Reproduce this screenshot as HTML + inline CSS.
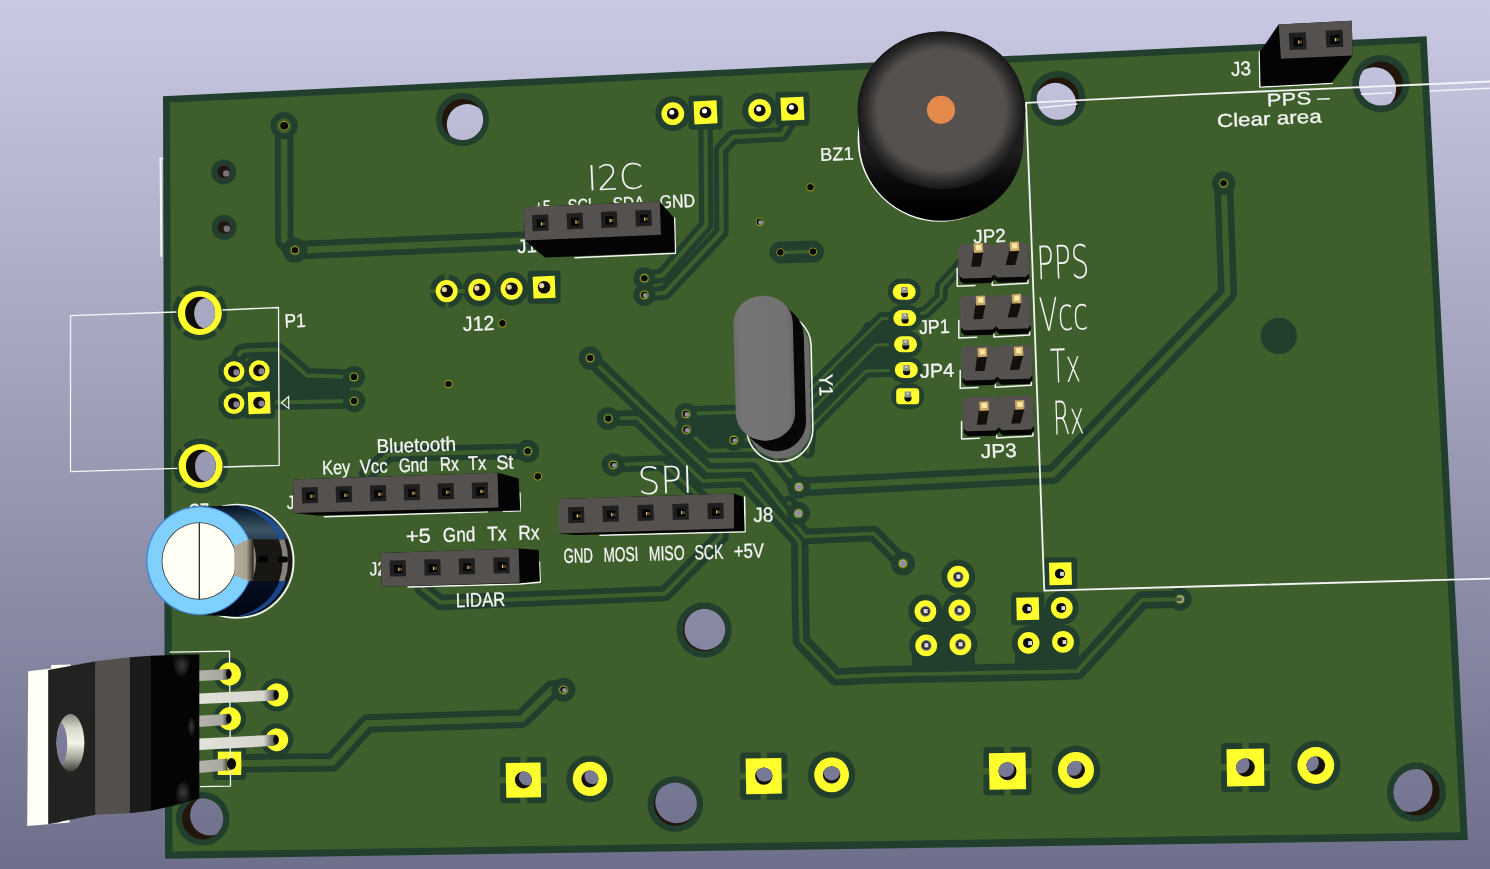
<!DOCTYPE html>
<html lang="en"><head><meta charset="utf-8"><title>PCB 3D view</title>
<style>
html,body{margin:0;padding:0;background:#666680;overflow:hidden}
svg{display:block}
.t{font-family:"Liberation Sans","DejaVu Sans",sans-serif;fill:#f4f4f4;stroke:#f4f4f4;stroke-width:0.3px}
.tl{font-family:"DejaVu Sans Light","DejaVu Sans","Liberation Sans",sans-serif;font-weight:200;fill:#f4f4f4}
</style></head><body>
<svg width="1490" height="869" viewBox="0 0 1490 869">
<defs>
<filter id="noop" x="-25%" y="-50%" width="150%" height="200%"><feOffset dx="0" dy="0"/></filter>
<linearGradient id="bg" gradientUnits="userSpaceOnUse" x1="0" y1="0" x2="0" y2="869"><stop offset="0" stop-color="#c9c9e3"/><stop offset="1" stop-color="#6e6f8a"/></linearGradient>
</defs>
<defs><radialGradient id="bzTop" gradientUnits="userSpaceOnUse" cx="941.5" cy="110" r="83.8" gradientTransform="translate(0 110) scale(1 0.94) translate(0 -110)">
<stop offset="0" stop-color="#55514e"/><stop offset="0.755" stop-color="#55514e"/><stop offset="0.80" stop-color="#4b4846"/><stop offset="0.90" stop-color="#2e2d2c"/><stop offset="1" stop-color="#181818"/></radialGradient>
<linearGradient id="bzBody" gradientUnits="userSpaceOnUse" x1="0" y1="150" x2="0" y2="212">
<stop offset="0" stop-color="#1e1e1e"/><stop offset="0.45" stop-color="#0c0c0c"/><stop offset="1" stop-color="#000"/></linearGradient>
<linearGradient id="xtTop" gradientUnits="userSpaceOnUse" x1="734" y1="0" x2="794" y2="0">
<stop offset="0" stop-color="#6c6c6c"/><stop offset="0.12" stop-color="#757575"/><stop offset="0.9" stop-color="#727272"/><stop offset="1" stop-color="#666"/></linearGradient>
<linearGradient id="capBody" gradientUnits="userSpaceOnUse" x1="0" y1="506" x2="0" y2="616">
<stop offset="0" stop-color="#06101f"/><stop offset="0.10" stop-color="#1c3346"/><stop offset="0.22" stop-color="#3d5563"/><stop offset="0.32" stop-color="#233a4c"/><stop offset="0.5" stop-color="#0b1a30"/><stop offset="0.75" stop-color="#030c1e"/><stop offset="1" stop-color="#010612"/></linearGradient>
<clipPath id="capClip"><path d="M199.7,506.4 L237,505.6 A55,55.5 0 0 1 237,616.6 L199.7,615 Z"/></clipPath>
<linearGradient id="wedge" gradientUnits="userSpaceOnUse" x1="234" y1="0" x2="254" y2="0"><stop offset="0" stop-color="#b2aa9a"/><stop offset="0.62" stop-color="#aca493"/><stop offset="0.8" stop-color="#6a6458"/><stop offset="1" stop-color="#1c1a16"/></linearGradient>
<linearGradient id="lead1" gradientUnits="userSpaceOnUse" x1="199" y1="0" x2="232" y2="0">
<stop offset="0" stop-color="#b4b4ac"/><stop offset="0.7" stop-color="#a8a8a0"/><stop offset="0.86" stop-color="#4a4a44"/><stop offset="1" stop-color="#0a0a08"/></linearGradient>
<linearGradient id="lead2" gradientUnits="userSpaceOnUse" x1="199" y1="0" x2="280" y2="0">
<stop offset="0" stop-color="#e2e2da"/><stop offset="0.8" stop-color="#d6d6ce"/><stop offset="0.92" stop-color="#5a5a54"/><stop offset="1" stop-color="#0a0a08"/></linearGradient>
<linearGradient id="tabHole" gradientUnits="userSpaceOnUse" x1="0" y1="714" x2="0" y2="772">
<stop offset="0" stop-color="#8a8a82"/><stop offset="0.25" stop-color="#d8d8cc"/><stop offset="0.5" stop-color="#f4f4e6"/><stop offset="0.75" stop-color="#a8a89c"/><stop offset="1" stop-color="#3a3a36"/></linearGradient>
<radialGradient id="notch" cx="0.5" cy="0.5" r="0.5"><stop offset="0" stop-color="#3a3a3a"/><stop offset="1" stop-color="#0a0a0a"/></radialGradient>
<clipPath id="tabClip"><ellipse cx="70.5" cy="742.8" rx="13.9" ry="28.7"/></clipPath></defs>
<rect width="1490" height="869" fill="url(#bg)"/>
<polyline points="1361.0,94.2 1490.0,88.2" fill="none" stroke="#f0f0f8" stroke-width="1.6" stroke-linejoin="round" stroke-linecap="round" />
<polygon points="163.0,96.2 1426.6,36.2 1467.8,840.0 165.1,858.7" fill="#223f2d" />
<polygon points="170.0,102.5 1420.0,43.0 1460.4,832.3 172.5,851.6" fill="#3e5f2c" />
<polyline points="284.1,125.7 284.3,240.0 295.0,250.3 527.0,240.6" fill="none" stroke="#223f2d" stroke-width="18.5" stroke-linejoin="round" stroke-linecap="round" />
<polyline points="705.5,120.0 706.3,225.0 662.3,275.5 644.4,278.2" fill="none" stroke="#223f2d" stroke-width="14.5" stroke-linejoin="round" stroke-linecap="round" />
<polyline points="792.0,118.0 782.0,134.5 733.0,137.0 721.0,150.0 721.5,232.0 665.0,292.6 644.4,294.9" fill="none" stroke="#223f2d" stroke-width="14.5" stroke-linejoin="round" stroke-linecap="round" />
<polyline points="780.4,252.4 812.9,251.6" fill="none" stroke="#223f2d" stroke-width="22" stroke-linejoin="round" stroke-linecap="round" />
<polyline points="1223.6,183.3 1227.6,293.6 1107.2,418.3 1053.0,474.5 798.9,487.0" fill="none" stroke="#223f2d" stroke-width="19" stroke-linejoin="round" stroke-linecap="round" />
<polyline points="234.0,367.0 240.5,352.0 246.0,350.6 277.5,349.6 307.0,375.4 353.9,376.9" fill="none" stroke="#223f2d" stroke-width="15" stroke-linejoin="round" stroke-linecap="round" />
<polyline points="259.2,402.8 354.1,401.1" fill="none" stroke="#223f2d" stroke-width="15" stroke-linejoin="round" stroke-linecap="round" />
<polyline points="366.6,474.4 388.8,454.2 527.7,451.2" fill="none" stroke="#223f2d" stroke-width="15.5" stroke-linejoin="round" stroke-linecap="round" />
<polyline points="422.5,588.7 440.0,602.4 664.8,593.6 721.2,536.2 716.0,512.0" fill="none" stroke="#223f2d" stroke-width="15.5" stroke-linejoin="round" stroke-linecap="round" />
<polyline points="229.9,763.6 332.3,762.3 367.3,723.6 522.1,718.7 552.0,689.6 563.5,689.8" fill="none" stroke="#223f2d" stroke-width="18.5" stroke-linejoin="round" stroke-linecap="round" />
<polyline points="590.2,358.1 708.0,470.9 752.3,470.0 805.0,536.5 873.5,533.5 902.9,563.5" fill="none" stroke="#223f2d" stroke-width="15.5" stroke-linejoin="round" stroke-linecap="round" />
<polyline points="608.3,418.6 637.2,417.8 702.6,481.0 743.1,479.5 799.5,541.5 800.0,560.0" fill="none" stroke="#223f2d" stroke-width="15.5" stroke-linejoin="round" stroke-linecap="round" />
<polyline points="799.8,548.0 800.3,600.0 801.3,641.0 836.0,677.0 880.0,674.8 1077.3,671.1 1142.2,599.9 1180.1,599.2" fill="none" stroke="#223f2d" stroke-width="17.5" stroke-linejoin="round" stroke-linecap="round" />
<polyline points="613.3,464.7 662.0,463.0 700.0,497.0 715.6,511.6" fill="none" stroke="#223f2d" stroke-width="15.5" stroke-linejoin="round" stroke-linecap="round" />
<polyline points="685.9,413.9 745.0,412.0" fill="none" stroke="#223f2d" stroke-width="15.5" stroke-linejoin="round" stroke-linecap="round" />
<polyline points="686.4,429.6 709.0,450.6 750.5,449.7 770.0,452.0 798.9,487.0" fill="none" stroke="#223f2d" stroke-width="15.5" stroke-linejoin="round" stroke-linecap="round" />
<polyline points="733.8,440.0 752.0,439.5" fill="none" stroke="#223f2d" stroke-width="15.5" stroke-linejoin="round" stroke-linecap="round" />
<polyline points="798.4,513.4 789.0,503.0" fill="none" stroke="#223f2d" stroke-width="15.5" stroke-linejoin="round" stroke-linecap="round" />
<polyline points="904.8,318.1 882.0,318.5 800.0,400.0 800.0,430.0" fill="none" stroke="#223f2d" stroke-width="13" stroke-linejoin="round" stroke-linecap="round" />
<polyline points="905.5,344.3 876.0,345.0 806.0,416.0 806.0,440.0" fill="none" stroke="#223f2d" stroke-width="13" stroke-linejoin="round" stroke-linecap="round" />
<polyline points="906.3,369.9 866.0,371.0 810.0,428.0 808.0,452.0" fill="none" stroke="#223f2d" stroke-width="13" stroke-linejoin="round" stroke-linecap="round" />
<polyline points="962.0,263.5 941.6,286.0 941.0,297.5 926.0,312.0 908.0,317.5" fill="none" stroke="#223f2d" stroke-width="12.8" stroke-linejoin="round" stroke-linecap="round" />
<polygon points="262.0,352.0 280.0,352.0 304.0,376.0 350.0,380.0 350.0,398.0 262.0,399.0" fill="#223f2d" />
<polygon points="640.0,272.0 652.0,272.0 652.0,300.0 640.0,300.0" fill="#223f2d" />
<polygon points="690.0,416.0 748.0,413.0 752.0,458.0 712.0,458.0" fill="#223f2d" />
<polygon points="866.0,322.0 905.0,322.0 905.0,372.0 866.0,372.0 812.0,428.0 800.0,420.0" fill="#223f2d" />
<polyline points="284.1,125.7 284.3,240.0 295.0,250.3 527.0,240.6" fill="none" stroke="#3e5f2c" stroke-width="6.7" stroke-linejoin="round" stroke-linecap="round" />
<polyline points="705.5,120.0 706.3,225.0 662.3,275.5 644.4,278.2" fill="none" stroke="#3e5f2c" stroke-width="4.3" stroke-linejoin="round" stroke-linecap="round" />
<polyline points="792.0,118.0 782.0,134.5 733.0,137.0 721.0,150.0 721.5,232.0 665.0,292.6 644.4,294.9" fill="none" stroke="#3e5f2c" stroke-width="4.3" stroke-linejoin="round" stroke-linecap="round" />
<polyline points="780.4,252.4 812.9,251.6" fill="none" stroke="#3e5f2c" stroke-width="3.5" stroke-linejoin="round" stroke-linecap="round" />
<polyline points="1223.6,183.3 1227.6,293.6 1107.2,418.3 1053.0,474.5 798.9,487.0" fill="none" stroke="#3e5f2c" stroke-width="6" stroke-linejoin="round" stroke-linecap="round" />
<polyline points="234.0,367.0 240.5,352.0 246.0,350.6 277.5,349.6 307.0,375.4 353.9,376.9" fill="none" stroke="#3e5f2c" stroke-width="4" stroke-linejoin="round" stroke-linecap="round" />
<polyline points="259.2,402.8 354.1,401.1" fill="none" stroke="#3e5f2c" stroke-width="4" stroke-linejoin="round" stroke-linecap="round" />
<polyline points="366.6,474.4 388.8,454.2 527.7,451.2" fill="none" stroke="#3e5f2c" stroke-width="4.5" stroke-linejoin="round" stroke-linecap="round" />
<polyline points="422.5,588.7 440.0,602.4 664.8,593.6 721.2,536.2 716.0,512.0" fill="none" stroke="#3e5f2c" stroke-width="4.2" stroke-linejoin="round" stroke-linecap="round" />
<polyline points="229.9,763.6 332.3,762.3 367.3,723.6 522.1,718.7 552.0,689.6 563.5,689.8" fill="none" stroke="#3e5f2c" stroke-width="6.5" stroke-linejoin="round" stroke-linecap="round" />
<polyline points="590.2,358.1 708.0,470.9 752.3,470.0 805.0,536.5 873.5,533.5 902.9,563.5" fill="none" stroke="#3e5f2c" stroke-width="3.6" stroke-linejoin="round" stroke-linecap="round" />
<polyline points="608.3,418.6 637.2,417.8 702.6,481.0 743.1,479.5 799.5,541.5 800.0,560.0" fill="none" stroke="#3e5f2c" stroke-width="3.6" stroke-linejoin="round" stroke-linecap="round" />
<polyline points="799.8,548.0 800.3,600.0 801.3,641.0 836.0,677.0 880.0,674.8 1077.3,671.1 1142.2,599.9 1180.1,599.2" fill="none" stroke="#3e5f2c" stroke-width="3.8" stroke-linejoin="round" stroke-linecap="round" />
<polyline points="613.3,464.7 662.0,463.0 700.0,497.0 715.6,511.6" fill="none" stroke="#3e5f2c" stroke-width="3.6" stroke-linejoin="round" stroke-linecap="round" />
<polyline points="685.9,413.9 745.0,412.0" fill="none" stroke="#3e5f2c" stroke-width="3.6" stroke-linejoin="round" stroke-linecap="round" />
<polyline points="686.4,429.6 709.0,450.6 750.5,449.7 770.0,452.0 798.9,487.0" fill="none" stroke="#3e5f2c" stroke-width="3.6" stroke-linejoin="round" stroke-linecap="round" />
<polyline points="733.8,440.0 752.0,439.5" fill="none" stroke="#3e5f2c" stroke-width="3.6" stroke-linejoin="round" stroke-linecap="round" />
<polyline points="798.4,513.4 789.0,503.0" fill="none" stroke="#3e5f2c" stroke-width="3.6" stroke-linejoin="round" stroke-linecap="round" />
<polyline points="904.8,318.1 882.0,318.5 800.0,400.0 800.0,430.0" fill="none" stroke="#3e5f2c" stroke-width="3" stroke-linejoin="round" stroke-linecap="round" />
<polyline points="905.5,344.3 876.0,345.0 806.0,416.0 806.0,440.0" fill="none" stroke="#3e5f2c" stroke-width="3" stroke-linejoin="round" stroke-linecap="round" />
<polyline points="906.3,369.9 866.0,371.0 810.0,428.0 808.0,452.0" fill="none" stroke="#3e5f2c" stroke-width="3" stroke-linejoin="round" stroke-linecap="round" />
<polyline points="962.0,263.5 941.6,286.0 941.0,297.5 926.0,312.0 908.0,317.5" fill="none" stroke="#3e5f2c" stroke-width="3.4" stroke-linejoin="round" stroke-linecap="round" />
<circle cx="1278.8" cy="335.9" r="18.2" fill="#223f2d"/>
<circle cx="284.1" cy="125.7" r="13.6" fill="#223f2d"/>
<circle cx="284.1" cy="125.7" r="7.5" fill="#3e5f2c"/>
<circle cx="284.1" cy="125.7" r="4.6" fill="#c9c41c"/>
<circle cx="284.1" cy="125.7" r="4" fill="#0b0905"/>
<circle cx="295" cy="250.3" r="12.5" fill="#223f2d"/>
<circle cx="295" cy="250.3" r="5.3" fill="#3e5f2c"/>
<circle cx="295" cy="250.3" r="3.9" fill="#c9c41c"/>
<circle cx="295" cy="250.3" r="3.3" fill="#0b0905"/>
<circle cx="810.4" cy="187.3" r="3.9" fill="#c9c41c"/>
<circle cx="810.4" cy="187.3" r="3.3" fill="#0b0905"/>
<circle cx="759.7" cy="221.8" r="3.9" fill="#c9c41c"/>
<circle cx="759.7" cy="221.8" r="3.3" fill="#0b0905"/>
<circle cx="760.6" cy="222.4" r="2.4" fill="#8d8da6"/>
<circle cx="780.4" cy="252.4" r="3.9" fill="#c9c41c"/>
<circle cx="780.4" cy="252.4" r="3.3" fill="#0b0905"/>
<circle cx="812.9" cy="251.6" r="3.9" fill="#c9c41c"/>
<circle cx="812.9" cy="251.6" r="3.3" fill="#0b0905"/>
<circle cx="644.4" cy="278.2" r="11" fill="#223f2d"/>
<circle cx="644.4" cy="278.2" r="5.3" fill="#3e5f2c"/>
<circle cx="644.4" cy="278.2" r="3.9" fill="#c9c41c"/>
<circle cx="644.4" cy="278.2" r="3.3" fill="#0b0905"/>
<circle cx="644.4" cy="294.9" r="11" fill="#223f2d"/>
<circle cx="644.4" cy="294.9" r="5.3" fill="#3e5f2c"/>
<circle cx="644.4" cy="294.9" r="3.9" fill="#c9c41c"/>
<circle cx="644.4" cy="294.9" r="3.3" fill="#0b0905"/>
<circle cx="645.3" cy="295.5" r="2.4" fill="#8d8da6"/>
<circle cx="590.2" cy="358.1" r="11.5" fill="#223f2d"/>
<circle cx="590.2" cy="358.1" r="5.3" fill="#3e5f2c"/>
<circle cx="590.2" cy="358.1" r="3.9" fill="#c9c41c"/>
<circle cx="590.2" cy="358.1" r="3.3" fill="#0b0905"/>
<circle cx="608.3" cy="418.6" r="11.5" fill="#223f2d"/>
<circle cx="608.3" cy="418.6" r="5.3" fill="#3e5f2c"/>
<circle cx="608.3" cy="418.6" r="3.9" fill="#c9c41c"/>
<circle cx="608.3" cy="418.6" r="3.3" fill="#0b0905"/>
<circle cx="613.3" cy="464.7" r="11.5" fill="#223f2d"/>
<circle cx="613.3" cy="464.7" r="5.3" fill="#3e5f2c"/>
<circle cx="613.3" cy="464.7" r="3.9" fill="#c9c41c"/>
<circle cx="613.3" cy="464.7" r="3.3" fill="#0b0905"/>
<circle cx="614.1999999999999" cy="465.3" r="2.4" fill="#8d8da6"/>
<circle cx="685.9" cy="413.9" r="11" fill="#223f2d"/>
<circle cx="685.9" cy="413.9" r="5.3" fill="#3e5f2c"/>
<circle cx="685.9" cy="413.9" r="3.9" fill="#c9c41c"/>
<circle cx="685.9" cy="413.9" r="3.3" fill="#0b0905"/>
<circle cx="686.8" cy="414.5" r="2.4" fill="#8d8da6"/>
<circle cx="686.4" cy="429.6" r="11" fill="#223f2d"/>
<circle cx="686.4" cy="429.6" r="5.3" fill="#3e5f2c"/>
<circle cx="686.4" cy="429.6" r="3.9" fill="#c9c41c"/>
<circle cx="686.4" cy="429.6" r="3.3" fill="#0b0905"/>
<circle cx="687.3" cy="430.20000000000005" r="2.4" fill="#8d8da6"/>
<circle cx="733.8" cy="440" r="11" fill="#223f2d"/>
<circle cx="733.8" cy="440" r="5.3" fill="#3e5f2c"/>
<circle cx="733.8" cy="440" r="3.9" fill="#c9c41c"/>
<circle cx="733.8" cy="440" r="3.3" fill="#0b0905"/>
<circle cx="734.6999999999999" cy="440.6" r="2.4" fill="#8d8da6"/>
<circle cx="798.9" cy="487" r="11.5" fill="#223f2d"/>
<circle cx="798.9" cy="487" r="5.3" fill="#3e5f2c"/>
<circle cx="798.9" cy="487" r="3.9" fill="#c9c41c"/>
<circle cx="798.9" cy="487" r="3.3" fill="#8d8da6"/>
<circle cx="798.4" cy="513.4" r="11.5" fill="#223f2d"/>
<circle cx="798.4" cy="513.4" r="5.3" fill="#3e5f2c"/>
<circle cx="798.4" cy="513.4" r="3.9" fill="#c9c41c"/>
<circle cx="798.4" cy="513.4" r="3.3" fill="#8d8da6"/>
<circle cx="902.9" cy="563.5" r="12" fill="#223f2d"/>
<circle cx="902.9" cy="563.5" r="5.3" fill="#3e5f2c"/>
<circle cx="902.9" cy="563.5" r="3.9" fill="#c9c41c"/>
<circle cx="902.9" cy="563.5" r="3.3" fill="#8d8da6"/>
<circle cx="1180.1" cy="599.2" r="11.5" fill="#223f2d"/>
<circle cx="1180.1" cy="599.2" r="5.3" fill="#3e5f2c"/>
<circle cx="1180.1" cy="599.2" r="3.9" fill="#c9c41c"/>
<circle cx="1180.1" cy="599.2" r="3.3" fill="#8d8da6"/>
<circle cx="1223.6" cy="183.3" r="11.7" fill="#223f2d"/>
<circle cx="1223.6" cy="183.3" r="5.3" fill="#3e5f2c"/>
<circle cx="1223.6" cy="183.3" r="3.9" fill="#c9c41c"/>
<circle cx="1223.6" cy="183.3" r="3.3" fill="#0b0905"/>
<circle cx="353.9" cy="376.9" r="11" fill="#223f2d"/>
<circle cx="353.9" cy="376.9" r="5.3" fill="#3e5f2c"/>
<circle cx="353.9" cy="376.9" r="3.9" fill="#c9c41c"/>
<circle cx="353.9" cy="376.9" r="3.3" fill="#0b0905"/>
<circle cx="354.1" cy="401.1" r="11" fill="#223f2d"/>
<circle cx="354.1" cy="401.1" r="5.3" fill="#3e5f2c"/>
<circle cx="354.1" cy="401.1" r="3.9" fill="#c9c41c"/>
<circle cx="354.1" cy="401.1" r="3.3" fill="#0b0905"/>
<circle cx="527.7" cy="451.2" r="11.5" fill="#223f2d"/>
<circle cx="527.7" cy="451.2" r="5.3" fill="#3e5f2c"/>
<circle cx="527.7" cy="451.2" r="3.9" fill="#c9c41c"/>
<circle cx="527.7" cy="451.2" r="3.3" fill="#0b0905"/>
<circle cx="537.8" cy="476.4" r="3.9" fill="#c9c41c"/>
<circle cx="537.8" cy="476.4" r="3.3" fill="#0b0905"/>
<circle cx="502.4" cy="323.4" r="3.9" fill="#c9c41c"/>
<circle cx="502.4" cy="323.4" r="3.3" fill="#0b0905"/>
<circle cx="448.5" cy="384" r="3.9" fill="#c9c41c"/>
<circle cx="448.5" cy="384" r="3.3" fill="#0b0905"/>
<circle cx="563.5" cy="689.8" r="12" fill="#223f2d"/>
<circle cx="563.5" cy="689.8" r="5.3" fill="#3e5f2c"/>
<circle cx="563.5" cy="689.8" r="3.9" fill="#c9c41c"/>
<circle cx="563.5" cy="689.8" r="3.3" fill="#0b0905"/>
<circle cx="564.4" cy="690.4" r="2.4" fill="#8d8da6"/>
<circle cx="223.7" cy="171.9" r="12.5" fill="#223f2d"/><circle cx="223.7" cy="171.9" r="6.8" fill="#3a261a"/><circle cx="223.7" cy="171.9" r="6" fill="#1f1611"/><circle cx="226.29999999999998" cy="173.4" r="3.2" fill="#77767f"/>
<circle cx="224.2" cy="227.3" r="12.5" fill="#223f2d"/><circle cx="224.2" cy="227.3" r="6.8" fill="#3a261a"/><circle cx="224.2" cy="227.3" r="6" fill="#1f1611"/><circle cx="226.79999999999998" cy="228.8" r="3.2" fill="#77767f"/>
<circle cx="462.6" cy="119.5" r="26.5" fill="#223f2d"/>
<clipPath id="c463_120"><circle cx="462.6" cy="119.5" r="20.6"/></clipPath>
<circle cx="462.6" cy="119.5" r="20.6" fill="#21150c"/>
<g clip-path="url(#c463_120)"><circle cx="467.1" cy="124.4" r="20.3" fill="url(#bg)"/></g>
<circle cx="1057.9" cy="98.6" r="27.6" fill="#223f2d"/>
<clipPath id="c1058_99"><circle cx="1057.9" cy="98.6" r="21.2"/></clipPath>
<circle cx="1057.9" cy="98.6" r="21.2" fill="#21150c"/>
<g clip-path="url(#c1058_99)"><circle cx="1055.3" cy="103.7" r="20.9" fill="url(#bg)"/></g>
<circle cx="1380.9" cy="83.6" r="28.7" fill="#223f2d"/>
<clipPath id="c1381_84"><circle cx="1380.9" cy="83.6" r="22"/></clipPath>
<circle cx="1380.9" cy="83.6" r="22" fill="#21150c"/>
<g clip-path="url(#c1381_84)"><circle cx="1374.4" cy="88.9" r="21.7" fill="url(#bg)"/></g>
<circle cx="1416.5" cy="792.2" r="29.6" fill="#223f2d"/>
<clipPath id="c1416_792"><circle cx="1416.5" cy="792.2" r="23.2"/></clipPath>
<circle cx="1416.5" cy="792.2" r="23.2" fill="#21150c"/>
<g clip-path="url(#c1416_792)"><circle cx="1409.6" cy="789.0" r="22.9" fill="url(#bg)"/></g>
<circle cx="202.7" cy="818.8" r="26.7" fill="#223f2d"/>
<clipPath id="c203_819"><circle cx="202.7" cy="818.8" r="20.6"/></clipPath>
<circle cx="202.7" cy="818.8" r="20.6" fill="#21150c"/>
<g clip-path="url(#c203_819)"><circle cx="210.4" cy="815.3" r="20.3" fill="url(#bg)"/></g>
<circle cx="675.3" cy="804.1" r="27.8" fill="#223f2d"/>
<clipPath id="c675_804"><circle cx="675.3" cy="804.1" r="21.6"/></clipPath>
<circle cx="675.3" cy="804.1" r="21.6" fill="#21150c"/>
<g clip-path="url(#c675_804)"><circle cx="676.6" cy="801.9" r="21.3" fill="url(#bg)"/></g>
<circle cx="704.1" cy="629.9" r="27.6" fill="#223f2d"/>
<clipPath id="c704_630"><circle cx="704.1" cy="629.9" r="21.1"/></clipPath>
<circle cx="704.1" cy="629.9" r="21.1" fill="#21150c"/>
<g clip-path="url(#c704_630)"><circle cx="705.2" cy="629.1" r="20.8" fill="url(#bg)"/></g>
<polyline points="1361.5,94.2 1391.5,92.7" fill="none" stroke="#f0f0f8" stroke-width="1.5" stroke-linejoin="round" stroke-linecap="round" stroke-linecap="butt"/>
<polyline points="1040.0,107.8 1077.0,104.0" fill="none" stroke="#f0f0f8" stroke-width="1.5" stroke-linejoin="round" stroke-linecap="round" stroke-linecap="butt"/>
<rect x="500.2" y="756.9" width="46.4" height="46.4" rx="4" fill="#223f2d"/>
<line x1="539.8" y1="780.1" x2="547.8" y2="780.1" stroke="#3e5f2c" stroke-width="6.5"/>
<line x1="507.0" y1="780.1" x2="499.0" y2="780.1" stroke="#3e5f2c" stroke-width="6.5"/>
<line x1="523.4" y1="796.5" x2="523.4" y2="804.5" stroke="#3e5f2c" stroke-width="6.5"/>
<line x1="523.4" y1="763.7" x2="523.4" y2="755.7" stroke="#3e5f2c" stroke-width="6.5"/>
<circle cx="589.9" cy="778.9" r="23.5" fill="#223f2d"/>
<rect x="506.0" y="762.7" width="34.8" height="34.8" fill="#ffff2e" transform="rotate(-1.0 523.4 780.1)"/>
<circle cx="589.9" cy="778.9" r="17.2" fill="#ffff2e"/>
<clipPath id="p523_780"><circle cx="523.4" cy="780.1" r="8.5"/></clipPath>
<circle cx="523.4" cy="780.1" r="8.5" fill="#15100a"/>
<g clip-path="url(#p523_780)"><circle cx="527.0" cy="777.2" r="8.2" fill="url(#bg)"/></g>
<clipPath id="p590_779"><circle cx="589.9" cy="778.9" r="8.5"/></clipPath>
<circle cx="589.9" cy="778.9" r="8.5" fill="#15100a"/>
<g clip-path="url(#p590_779)"><circle cx="592.7" cy="776.0" r="8.2" fill="url(#bg)"/></g>
<rect x="740.1" y="752.5" width="47.3" height="47.3" rx="4" fill="#223f2d"/>
<line x1="780.6" y1="776.1" x2="788.6" y2="776.1" stroke="#3e5f2c" stroke-width="6.5"/>
<line x1="746.9" y1="776.1" x2="738.9" y2="776.1" stroke="#3e5f2c" stroke-width="6.5"/>
<line x1="763.8" y1="793.0" x2="763.8" y2="801.0" stroke="#3e5f2c" stroke-width="6.5"/>
<line x1="763.8" y1="759.2" x2="763.8" y2="751.2" stroke="#3e5f2c" stroke-width="6.5"/>
<circle cx="831.6" cy="774.9" r="23.7" fill="#223f2d"/>
<rect x="745.9" y="758.2" width="35.7" height="35.7" fill="#ffff2e" transform="rotate(-1.0 763.8 776.1)"/>
<circle cx="831.6" cy="774.9" r="17.4" fill="#ffff2e"/>
<clipPath id="p764_776"><circle cx="763.8" cy="776.1" r="8.7"/></clipPath>
<circle cx="763.8" cy="776.1" r="8.7" fill="#15100a"/>
<g clip-path="url(#p764_776)"><circle cx="764.7" cy="773.2" r="8.4" fill="url(#bg)"/></g>
<clipPath id="p832_775"><circle cx="831.6" cy="774.9" r="8.7"/></clipPath>
<circle cx="831.6" cy="774.9" r="8.7" fill="#15100a"/>
<g clip-path="url(#p832_775)"><circle cx="831.7" cy="772.0" r="8.4" fill="url(#bg)"/></g>
<rect x="983.4" y="747.1" width="48.2" height="48.2" rx="4" fill="#223f2d"/>
<line x1="1024.8" y1="771.2" x2="1032.8" y2="771.2" stroke="#3e5f2c" stroke-width="6.5"/>
<line x1="990.2" y1="771.2" x2="982.2" y2="771.2" stroke="#3e5f2c" stroke-width="6.5"/>
<line x1="1007.5" y1="788.5" x2="1007.5" y2="796.5" stroke="#3e5f2c" stroke-width="6.5"/>
<line x1="1007.5" y1="753.9" x2="1007.5" y2="745.9" stroke="#3e5f2c" stroke-width="6.5"/>
<circle cx="1076" cy="770" r="24.3" fill="#223f2d"/>
<rect x="989.2" y="752.9" width="36.6" height="36.6" fill="#ffff2e" transform="rotate(-1.0 1007.5 771.2)"/>
<circle cx="1076" cy="770" r="18" fill="#ffff2e"/>
<clipPath id="p1008_771"><circle cx="1007.5" cy="771.2" r="9"/></clipPath>
<circle cx="1007.5" cy="771.2" r="9" fill="#15100a"/>
<g clip-path="url(#p1008_771)"><circle cx="1005.5" cy="768.3" r="8.7" fill="url(#bg)"/></g>
<clipPath id="p1076_770"><circle cx="1076" cy="770" r="9"/></clipPath>
<circle cx="1076" cy="770" r="9" fill="#15100a"/>
<g clip-path="url(#p1076_770)"><circle cx="1073.2" cy="767.1" r="8.7" fill="url(#bg)"/></g>
<rect x="1221.0" y="743.1" width="48.9" height="48.9" rx="4" fill="#223f2d"/>
<line x1="1263.2" y1="767.5" x2="1271.2" y2="767.5" stroke="#3e5f2c" stroke-width="6.5"/>
<line x1="1227.8" y1="767.5" x2="1219.8" y2="767.5" stroke="#3e5f2c" stroke-width="6.5"/>
<line x1="1245.5" y1="785.1" x2="1245.5" y2="793.1" stroke="#3e5f2c" stroke-width="6.5"/>
<line x1="1245.5" y1="749.9" x2="1245.5" y2="741.9" stroke="#3e5f2c" stroke-width="6.5"/>
<circle cx="1315.8" cy="765.5" r="24.7" fill="#223f2d"/>
<rect x="1226.8" y="748.9" width="37.3" height="37.3" fill="#ffff2e" transform="rotate(-1.0 1245.5 767.5)"/>
<circle cx="1315.8" cy="765.5" r="18.4" fill="#ffff2e"/>
<clipPath id="p1246_768"><circle cx="1245.5" cy="767.5" r="9.3"/></clipPath>
<circle cx="1245.5" cy="767.5" r="9.3" fill="#15100a"/>
<g clip-path="url(#p1246_768)"><circle cx="1240.5" cy="764.5" r="9.0" fill="url(#bg)"/></g>
<clipPath id="p1316_766"><circle cx="1315.8" cy="765.5" r="9.3"/></clipPath>
<circle cx="1315.8" cy="765.5" r="9.3" fill="#15100a"/>
<g clip-path="url(#p1316_766)"><circle cx="1309.9" cy="762.5" r="9.0" fill="url(#bg)"/></g>
<circle cx="672.8" cy="113.7" r="17.5" fill="#223f2d"/>
<circle cx="759.7" cy="110.4" r="17.5" fill="#223f2d"/>
<rect x="688.5" y="95.4" width="34.0" height="34.0" rx="4" fill="#223f2d"/>
<rect x="775.4" y="91.8" width="34.0" height="34.0" rx="4" fill="#223f2d"/>
<circle cx="672.8" cy="113.7" r="11.4" fill="#ffff2e"/>
<circle cx="672.8" cy="113.7" r="5.9" fill="#120d08"/>
<circle cx="671.8" cy="112.2" r="2.5" fill="#ffffff"/>
<circle cx="759.7" cy="110.4" r="11.4" fill="#ffff2e"/>
<circle cx="759.7" cy="110.4" r="5.9" fill="#120d08"/>
<circle cx="758.7" cy="108.9" r="2.5" fill="#ffffff"/>
<rect x="694.0" y="100.9" width="23" height="23" fill="#ffff2e" transform="rotate(-2.7 705.5 112.4)"/>
<circle cx="705.5" cy="112.4" r="5.9" fill="#120d08"/>
<circle cx="704.5" cy="110.9" r="2.5" fill="#ffffff"/>
<rect x="780.9" y="97.3" width="23" height="23" fill="#ffff2e" transform="rotate(-2.7 792.4 108.8)"/>
<circle cx="792.4" cy="108.8" r="5.9" fill="#120d08"/>
<circle cx="791.4" cy="107.3" r="2.5" fill="#ffffff"/>
<circle cx="446.7" cy="291.1" r="16.8" fill="#223f2d"/>
<circle cx="479.3" cy="289.7" r="16.8" fill="#223f2d"/>
<circle cx="511.6" cy="288.7" r="16.8" fill="#223f2d"/>
<rect x="527.6" y="270.7" width="33.0" height="33.0" rx="4" fill="#223f2d"/>
<line x1="456.7" y1="291.1" x2="464.7" y2="291.1" stroke="#3e5f2c" stroke-width="4"/>
<line x1="436.7" y1="291.1" x2="428.7" y2="291.1" stroke="#3e5f2c" stroke-width="4"/>
<line x1="446.7" y1="301.1" x2="446.7" y2="309.1" stroke="#3e5f2c" stroke-width="4"/>
<line x1="446.7" y1="281.1" x2="446.7" y2="273.1" stroke="#3e5f2c" stroke-width="4"/>
<circle cx="446.7" cy="291.1" r="11" fill="#ffff2e"/>
<circle cx="446.7" cy="291.1" r="6.3" fill="#120d08"/>
<circle cx="444.3" cy="289.5" r="2.6" fill="#e6d2a6"/>
<circle cx="479.3" cy="289.7" r="11" fill="#ffff2e"/>
<circle cx="479.3" cy="289.7" r="6.3" fill="#120d08"/>
<circle cx="476.90000000000003" cy="288.09999999999997" r="2.6" fill="#e6d2a6"/>
<circle cx="511.6" cy="288.7" r="11" fill="#ffff2e"/>
<circle cx="511.6" cy="288.7" r="6.3" fill="#120d08"/>
<circle cx="509.20000000000005" cy="287.09999999999997" r="2.6" fill="#e6d2a6"/>
<rect x="533.1" y="276.2" width="22" height="22" fill="#ffff2e" transform="rotate(-2.2 544.1 287.2)"/>
<circle cx="544.1" cy="287.2" r="6.3" fill="#120d08"/>
<circle cx="541.7" cy="285.59999999999997" r="2.6" fill="#e6d2a6"/>
<circle cx="199.8" cy="312.9" r="27.5" fill="#223f2d"/>
<line x1="213.9" y1="327.0" x2="220.3" y2="333.4" stroke="#3e5f2c" stroke-width="5"/>
<line x1="185.7" y1="327.0" x2="179.3" y2="333.4" stroke="#3e5f2c" stroke-width="5"/>
<line x1="185.7" y1="298.8" x2="179.3" y2="292.4" stroke="#3e5f2c" stroke-width="5"/>
<line x1="213.9" y1="298.8" x2="220.3" y2="292.4" stroke="#3e5f2c" stroke-width="5"/>
<circle cx="199.8" cy="312.9" r="22" fill="#ffff2e"/>
<clipPath id="u313"><ellipse cx="200.10000000000002" cy="312.9" rx="15" ry="16.2"/></clipPath>
<ellipse cx="200.10000000000002" cy="312.9" rx="15" ry="16.2" fill="#100c06"/>
<g clip-path="url(#u313)"><ellipse cx="205.4" cy="313.29999999999995" rx="11.2" ry="15" fill="url(#bg)"/></g>
<circle cx="200.6" cy="466" r="27.5" fill="#223f2d"/>
<line x1="214.7" y1="480.1" x2="221.1" y2="486.5" stroke="#3e5f2c" stroke-width="5"/>
<line x1="186.5" y1="480.1" x2="180.1" y2="486.5" stroke="#3e5f2c" stroke-width="5"/>
<line x1="186.5" y1="451.9" x2="180.1" y2="445.5" stroke="#3e5f2c" stroke-width="5"/>
<line x1="214.7" y1="451.9" x2="221.1" y2="445.5" stroke="#3e5f2c" stroke-width="5"/>
<circle cx="200.6" cy="466" r="22" fill="#ffff2e"/>
<clipPath id="u466"><ellipse cx="200.9" cy="466" rx="15" ry="16.2"/></clipPath>
<ellipse cx="200.9" cy="466" rx="15" ry="16.2" fill="#100c06"/>
<g clip-path="url(#u466)"><ellipse cx="206.2" cy="466.4" rx="11.2" ry="15" fill="url(#bg)"/></g>
<circle cx="234" cy="371.6" r="15.8" fill="#223f2d"/>
<circle cx="259.2" cy="370.6" r="15.8" fill="#223f2d"/>
<circle cx="234" cy="403.6" r="15.8" fill="#223f2d"/>
<rect x="243.2" y="386.8" width="32.0" height="32.0" rx="4" fill="#223f2d"/>
<circle cx="234" cy="371.6" r="10.4" fill="#ffff2e"/>
<circle cx="259.2" cy="370.6" r="10.4" fill="#ffff2e"/>
<circle cx="234" cy="403.6" r="10.4" fill="#ffff2e"/>
<rect x="248.2" y="391.8" width="22" height="22" fill="#ffff2e" transform="rotate(-2.0 259.2 402.8)"/>
<circle cx="234" cy="371.6" r="6" fill="#120d08"/><circle cx="236.4" cy="372.40000000000003" r="3.1" fill="#85849a"/>
<circle cx="259.2" cy="370.6" r="6" fill="#120d08"/><circle cx="261.59999999999997" cy="371.40000000000003" r="3.1" fill="#85849a"/>
<circle cx="234" cy="403.6" r="6" fill="#120d08"/><circle cx="236.4" cy="404.40000000000003" r="3.1" fill="#85849a"/>
<circle cx="259.2" cy="402.8" r="6" fill="#120d08"/><circle cx="261.59999999999997" cy="403.6" r="3.1" fill="#85849a"/>
<rect x="887.7" y="278.8" width="33" height="26" rx="13" fill="#223f2d"/>
<rect x="888.3" y="305.1" width="33" height="26" rx="13" fill="#223f2d"/>
<rect x="889.0" y="331.3" width="33" height="26" rx="13" fill="#223f2d"/>
<rect x="889.8" y="356.9" width="33" height="26" rx="13" fill="#223f2d"/>
<rect x="891.2" y="383.3" width="33" height="26" rx="13" fill="#223f2d"/>
<rect x="892.7" y="283.8" width="23" height="16" rx="8" fill="#ffff2e"/>
<rect x="893.3" y="310.1" width="23" height="16" rx="8" fill="#ffff2e"/>
<rect x="894.0" y="336.3" width="23" height="16" rx="8" fill="#ffff2e"/>
<rect x="894.8" y="361.9" width="23" height="16" rx="8" fill="#ffff2e"/>
<rect x="896.2" y="388.3" width="23" height="16" rx="3.5" fill="#ffff2e"/>
<circle cx="904.5" cy="293.6" r="3.6" fill="#0e0b08"/><rect x="901.2" y="287.0" width="6.4" height="6" fill="#8e8e8a"/><rect x="902.8000000000001" y="288.2" width="2.6" height="1.6" fill="#d8d8d4"/>
<circle cx="905.0999999999999" cy="319.90000000000003" r="3.6" fill="#0e0b08"/><rect x="901.8" y="313.3" width="6.4" height="6" fill="#8e8e8a"/><rect x="903.4" y="314.5" width="2.6" height="1.6" fill="#d8d8d4"/>
<circle cx="905.8" cy="346.1" r="3.6" fill="#0e0b08"/><rect x="902.5" y="339.5" width="6.4" height="6" fill="#8e8e8a"/><rect x="904.1" y="340.7" width="2.6" height="1.6" fill="#d8d8d4"/>
<circle cx="906.5999999999999" cy="371.7" r="3.6" fill="#0e0b08"/><rect x="903.3" y="365.09999999999997" width="6.4" height="6" fill="#8e8e8a"/><rect x="904.9" y="366.29999999999995" width="2.6" height="1.6" fill="#d8d8d4"/>
<circle cx="908.0" cy="398.1" r="3.6" fill="#0e0b08"/><rect x="904.7" y="391.5" width="6.4" height="6" fill="#8e8e8a"/><rect x="906.3000000000001" y="392.7" width="2.6" height="1.6" fill="#d8d8d4"/>
<circle cx="958.2" cy="576.7" r="17" fill="#223f2d"/>
<circle cx="925.4" cy="611.2" r="17" fill="#223f2d"/>
<circle cx="959.4" cy="610.4" r="17" fill="#223f2d"/>
<circle cx="926.2" cy="645.4" r="17" fill="#223f2d"/>
<circle cx="960.4" cy="644.4" r="17" fill="#223f2d"/>
<circle cx="1061.8" cy="607.9" r="17" fill="#223f2d"/>
<circle cx="1028.6" cy="642.9" r="17" fill="#223f2d"/>
<circle cx="1063" cy="641.9" r="17" fill="#223f2d"/>
<rect x="1044.0" y="557.2" width="33.1" height="33.1" rx="4" fill="#223f2d"/>
<rect x="1011.2" y="592.2" width="33.1" height="33.1" rx="4" fill="#223f2d"/>
<polygon points="925.0,611.0 960.0,610.0 961.0,645.0 926.0,646.0" fill="#223f2d" />
<polygon points="1028.0,609.0 1062.0,608.0 1063.0,642.0 1029.0,643.0" fill="#223f2d" />
<polygon points="912.0,648.0 974.0,646.0 976.0,674.0 912.0,676.0" fill="#223f2d" />
<polygon points="1015.0,646.0 1079.0,644.0 1079.0,672.0 1015.0,673.0" fill="#223f2d" />
<circle cx="958.2" cy="576.7" r="10.9" fill="#ffff2e"/>
<circle cx="925.4" cy="611.2" r="10.9" fill="#ffff2e"/>
<circle cx="959.4" cy="610.4" r="10.9" fill="#ffff2e"/>
<circle cx="926.2" cy="645.4" r="10.9" fill="#ffff2e"/>
<circle cx="960.4" cy="644.4" r="10.9" fill="#ffff2e"/>
<circle cx="1061.8" cy="607.9" r="10.9" fill="#ffff2e"/>
<circle cx="1028.6" cy="642.9" r="10.9" fill="#ffff2e"/>
<circle cx="1063" cy="641.9" r="10.9" fill="#ffff2e"/>
<rect x="1049.2" y="562.5" width="22.5" height="22.5" fill="#ffff2e" transform="rotate(-1.5 1060.5 573.7)"/>
<rect x="1016.5" y="597.5" width="22.5" height="22.5" fill="#ffff2e" transform="rotate(-1.4 1027.8 608.7)"/>
<circle cx="958.2" cy="576.7" r="5.3" fill="#6f6f78"/><circle cx="958.2" cy="576.7" r="4.2" fill="#2a2a2c"/><rect x="956.4000000000001" y="574.5" width="4" height="4.2" fill="#d9d9df"/>
<circle cx="925.4" cy="611.2" r="5.3" fill="#6f6f78"/><circle cx="925.4" cy="611.2" r="4.2" fill="#2a2a2c"/><rect x="923.6" y="609.0" width="4" height="4.2" fill="#d9d9df"/>
<circle cx="959.4" cy="610.4" r="5.3" fill="#6f6f78"/><circle cx="959.4" cy="610.4" r="4.2" fill="#2a2a2c"/><rect x="957.6" y="608.1999999999999" width="4" height="4.2" fill="#d9d9df"/>
<circle cx="926.2" cy="645.4" r="5.3" fill="#6f6f78"/><circle cx="926.2" cy="645.4" r="4.2" fill="#2a2a2c"/><rect x="924.4000000000001" y="643.1999999999999" width="4" height="4.2" fill="#d9d9df"/>
<circle cx="960.4" cy="644.4" r="5.3" fill="#6f6f78"/><circle cx="960.4" cy="644.4" r="4.2" fill="#2a2a2c"/><rect x="958.6" y="642.1999999999999" width="4" height="4.2" fill="#d9d9df"/>
<circle cx="1061.2" cy="607.9" r="5" fill="#0c0a09"/><rect x="1061.3999999999999" y="606.1" width="3.8" height="4" fill="#d9d9df"/>
<circle cx="1028.0" cy="642.9" r="5" fill="#0c0a09"/><rect x="1028.1999999999998" y="641.1" width="3.8" height="4" fill="#d9d9df"/>
<circle cx="1062.4" cy="641.9" r="5" fill="#0c0a09"/><rect x="1062.6" y="640.1" width="3.8" height="4" fill="#d9d9df"/>
<circle cx="1059.9" cy="573.7" r="5" fill="#0c0a09"/><rect x="1060.1" y="571.9000000000001" width="3.8" height="4" fill="#d9d9df"/>
<circle cx="1027.2" cy="608.7" r="5" fill="#0c0a09"/><rect x="1027.3999999999999" y="606.9000000000001" width="3.8" height="4" fill="#d9d9df"/>
<polyline points="836.0,677.0 880.0,674.8 1077.3,671.1 1142.2,599.9 1180.1,599.2" fill="none" stroke="#3e5f2c" stroke-width="3.6" stroke-linejoin="round" stroke-linecap="round" />
<circle cx="229.5" cy="674" r="16.5" fill="#223f2d"/>
<circle cx="276.8" cy="694.9" r="16.5" fill="#223f2d"/>
<circle cx="229.5" cy="718.7" r="16.5" fill="#223f2d"/>
<circle cx="276.8" cy="739.8" r="16.5" fill="#223f2d"/>
<rect x="212.8" y="746.6" width="33.4" height="33.4" rx="4" fill="#223f2d"/>
<polyline points="229.9,763.6 332.3,762.3 367.3,723.6" fill="none" stroke="#3e5f2c" stroke-width="6.5" stroke-linejoin="round" stroke-linecap="round" />
<circle cx="229.5" cy="674" r="11.4" fill="#ffff2e"/>
<circle cx="276.8" cy="694.9" r="11.4" fill="#ffff2e"/>
<circle cx="229.5" cy="718.7" r="11.4" fill="#ffff2e"/>
<circle cx="276.8" cy="739.8" r="11.4" fill="#ffff2e"/>
<rect x="217.8" y="751.6" width="23.4" height="23.4" fill="#ffff2e" transform="rotate(0.0 229.5 763.3)"/>
<polyline points="1490.0,81.5 1190.0,94.6 1026.0,102.9 1031.0,227.0 1038.5,432.0 1044.3,590.7 1252.0,585.0 1490.0,578.6" fill="none" stroke="#f4f4f4" stroke-width="1.8" stroke-linejoin="round" stroke-linecap="round" stroke-linecap="butt"/>
<polyline points="159.6,158.5 162.6,158.4" fill="none" stroke="#f4f4f4" stroke-width="1.5" stroke-linejoin="round" stroke-linecap="round" />
<polyline points="160.6,158.5 161.3,256.0" fill="none" stroke="#f4f4f4" stroke-width="2" stroke-linejoin="round" stroke-linecap="round" />
<polyline points="176.0,312.0 70.5,315.7 70.5,471.7 177.0,468.3" fill="none" stroke="#f4f4f4" stroke-width="1.3" stroke-linejoin="round" stroke-linecap="round" />
<polyline points="223.0,310.0 278.5,307.5 279.2,465.3 224.0,467.0" fill="none" stroke="#f4f4f4" stroke-width="1.3" stroke-linejoin="round" stroke-linecap="round" />
<polygon points="288.6,396.6 288.8,408.6 281.4,402.8" fill="none" stroke="#f4f4f4" stroke-width="1.2"/>
<polyline points="170.0,652.2 229.5,651.2 230.5,786.1 200.3,786.6" fill="none" stroke="#f4f4f4" stroke-width="1.3" stroke-linejoin="round" stroke-linecap="round" />
<circle cx="237" cy="561.3" r="56.6" fill="none" stroke="#f4f4f4" stroke-width="1.8"/>
<circle cx="939.8" cy="139.5" r="81.3" fill="none" stroke="#f4f4f4" stroke-width="1.8"/>
<rect x="746" y="313.5" width="66" height="148.3" rx="33" fill="none" stroke="#f4f4f4" stroke-width="1.6" transform="rotate(-1.2 780 388)"/>
<g filter="url(#noop)"><text class="t" x="820.3" y="161" font-size="18.4" textLength="33.7" lengthAdjust="spacingAndGlyphs" transform="rotate(-2.56 820.3 161)" text-anchor="start" >BZ1</text></g>
<g filter="url(#noop)"><text class="t" x="1231.3" y="76" font-size="20.0" textLength="20.1" lengthAdjust="spacingAndGlyphs" transform="rotate(-2.77 1231.3 76)" text-anchor="start" >J3</text></g>
<g filter="url(#noop)"><text class="t" x="1267.1" y="106.2" font-size="17.7" textLength="62.9" lengthAdjust="spacingAndGlyphs" transform="rotate(-2.69 1267.1 106.2)" text-anchor="start" >PPS –</text></g>
<g filter="url(#noop)"><text class="t" x="1217.2" y="127.3" font-size="18.7" textLength="104.8" lengthAdjust="spacingAndGlyphs" transform="rotate(-2.64 1217.2 127.3)" text-anchor="start" >Clear area</text></g>
<g filter="url(#noop)"><text class="t" x="973.6" y="243.2" font-size="19.0" textLength="32.5" lengthAdjust="spacingAndGlyphs" transform="rotate(-2.35 973.6 243.2)" text-anchor="start" >JP2</text></g>
<g filter="url(#noop)"><text class="t" x="919.2" y="334" font-size="19.6" textLength="30.8" lengthAdjust="spacingAndGlyphs" transform="rotate(-2.12 919.2 334)" text-anchor="start" >JP1</text></g>
<g filter="url(#noop)"><text class="t" x="919.9" y="377.8" font-size="19.6" textLength="34.5" lengthAdjust="spacingAndGlyphs" transform="rotate(-2.01 919.9 377.8)" text-anchor="start" >JP4</text></g>
<g filter="url(#noop)"><text class="t" x="981" y="458" font-size="19.6" textLength="36" lengthAdjust="spacingAndGlyphs" transform="rotate(-1.81 981 458)" text-anchor="start" >JP3</text></g>
<g filter="url(#noop)"><text class="t" x="284.7" y="327.6" font-size="19.1" textLength="21.3" lengthAdjust="spacingAndGlyphs" transform="rotate(-2.14 284.7 327.6)" text-anchor="start" >P1</text></g>
<g filter="url(#noop)"><text class="t" x="463.1" y="331" font-size="20.4" textLength="31.6" lengthAdjust="spacingAndGlyphs" transform="rotate(-2.13 463.1 331)" text-anchor="start" >J12</text></g>
<g filter="url(#noop)"><text class="t" x="753.5" y="522" font-size="20.4" textLength="20.0" lengthAdjust="spacingAndGlyphs" transform="rotate(-1.65 753.5 522)" text-anchor="start" >J8</text></g>
<g filter="url(#noop)"><text class="t" x="517.5" y="253" font-size="18.9" textLength="19.5" lengthAdjust="spacingAndGlyphs" transform="rotate(-2.33 517.5 253)" text-anchor="start" >J1</text></g>
<g filter="url(#noop)"><text class="t" x="287" y="509" font-size="18.9" textLength="16" lengthAdjust="spacingAndGlyphs" transform="rotate(-1.68 287 509)" text-anchor="start" >J7</text></g>
<g filter="url(#noop)"><text class="t" x="369.7" y="575.5" font-size="18.9" textLength="16.3" lengthAdjust="spacingAndGlyphs" transform="rotate(-1.52 369.7 575.5)" text-anchor="start" >J2</text></g>
<g filter="url(#noop)"><text class="t" x="188.5" y="517.5" font-size="19.6" textLength="21.0" lengthAdjust="spacingAndGlyphs" transform="rotate(-1.66 188.5 517.5)" text-anchor="start" >C7</text></g>
<g filter="url(#noop)"><text class="t" x="376.7" y="453" font-size="19.6" textLength="79.5" lengthAdjust="spacingAndGlyphs" transform="rotate(-1.82 376.7 453)" text-anchor="start" >Bluetooth</text></g>
<g filter="url(#noop)"><text class="t" x="322.3" y="474.6" font-size="19.6" textLength="28.2" lengthAdjust="spacingAndGlyphs" transform="rotate(-1.77 322.3 474.6)" text-anchor="start" >Key</text></g>
<g filter="url(#noop)"><text class="t" x="360" y="473.42822" font-size="19.6" textLength="27.8" lengthAdjust="spacingAndGlyphs" transform="rotate(-1.77 360 473.42822)" text-anchor="start" >Vcc</text></g>
<g filter="url(#noop)"><text class="t" x="398.9" y="472.21914196286474" font-size="19.6" textLength="29.1" lengthAdjust="spacingAndGlyphs" transform="rotate(-1.77 398.9 472.21914196286474)" text-anchor="start" >Gnd</text></g>
<g filter="url(#noop)"><text class="t" x="440.1" y="470.9385760212202" font-size="19.6" textLength="19.1" lengthAdjust="spacingAndGlyphs" transform="rotate(-1.78 440.1 470.9385760212202)" text-anchor="start" >Rx</text></g>
<g filter="url(#noop)"><text class="t" x="468.3" y="470.0620721485411" font-size="19.6" textLength="18.1" lengthAdjust="spacingAndGlyphs" transform="rotate(-1.78 468.3 470.0620721485411)" text-anchor="start" >Tx</text></g>
<g filter="url(#noop)"><text class="t" x="496.5" y="469.18556827586207" font-size="19.6" textLength="17.1" lengthAdjust="spacingAndGlyphs" transform="rotate(-1.78 496.5 469.18556827586207)" text-anchor="start" >St</text></g>
<g filter="url(#noop)"><text class="t" x="405.9" y="543.0" font-size="20.0" textLength="25.2" lengthAdjust="spacingAndGlyphs" transform="rotate(-1.6 405.9 543.0)" text-anchor="start" >+5</text></g>
<g filter="url(#noop)"><text class="t" x="443.1" y="541.9580743766578" font-size="20.0" textLength="32.3" lengthAdjust="spacingAndGlyphs" transform="rotate(-1.6 443.1 541.9580743766578)" text-anchor="start" >Gnd</text></g>
<g filter="url(#noop)"><text class="t" x="487.4" y="540.7172866047746" font-size="20.0" textLength="19.2" lengthAdjust="spacingAndGlyphs" transform="rotate(-1.6 487.4 540.7172866047746)" text-anchor="start" >Tx</text></g>
<g filter="url(#noop)"><text class="t" x="518.6" y="539.8434135013263" font-size="20.0" textLength="21.2" lengthAdjust="spacingAndGlyphs" transform="rotate(-1.6 518.6 539.8434135013263)" text-anchor="start" >Rx</text></g>
<g filter="url(#noop)"><text class="t" x="456.1" y="607.2" font-size="19.8" textLength="49.4" lengthAdjust="spacingAndGlyphs" transform="rotate(-1.44 456.1 607.2)" text-anchor="start" >LIDAR</text></g>
<g filter="url(#noop)"><text class="t" x="563.7" y="563.0" font-size="20.4" textLength="29.5" lengthAdjust="spacingAndGlyphs" transform="rotate(-1.55 563.7 563.0)" text-anchor="start" >GND</text></g>
<g filter="url(#noop)"><text class="t" x="603.7" y="561.9147692307693" font-size="20.4" textLength="35.0" lengthAdjust="spacingAndGlyphs" transform="rotate(-1.55 603.7 561.9147692307693)" text-anchor="start" >MOSI</text></g>
<g filter="url(#noop)"><text class="t" x="649.1" y="560.6830323076923" font-size="20.4" textLength="35.7" lengthAdjust="spacingAndGlyphs" transform="rotate(-1.55 649.1 560.6830323076923)" text-anchor="start" >MISO</text></g>
<g filter="url(#noop)"><text class="t" x="694.8" y="559.4431561538462" font-size="20.4" textLength="28.7" lengthAdjust="spacingAndGlyphs" transform="rotate(-1.56 694.8 559.4431561538462)" text-anchor="start" >SCK</text></g>
<g filter="url(#noop)"><text class="t" x="734" y="558.37963" font-size="20.4" textLength="30.2" lengthAdjust="spacingAndGlyphs" transform="rotate(-1.56 734 558.37963)" text-anchor="start" >+5V</text></g>
<g filter="url(#noop)"><text class="t" x="535" y="213.6" font-size="18.4" textLength="16" lengthAdjust="spacingAndGlyphs" transform="rotate(-2.42 535 213.6)" text-anchor="start" >+5</text></g>
<g filter="url(#noop)"><text class="t" x="568" y="212.19764880636603" font-size="18.4" textLength="28.5" lengthAdjust="spacingAndGlyphs" transform="rotate(-2.43 568 212.19764880636603)" text-anchor="start" >SCL</text></g>
<g filter="url(#noop)"><text class="t" x="612.9" y="210.28960127320954" font-size="18.4" textLength="31.9" lengthAdjust="spacingAndGlyphs" transform="rotate(-2.43 612.9 210.28960127320954)" text-anchor="start" >SDA</text></g>
<g filter="url(#noop)"><text class="t" x="659.8" y="208.2965627586207" font-size="18.4" textLength="35.5" lengthAdjust="spacingAndGlyphs" transform="rotate(-2.44 659.8 208.2965627586207)" text-anchor="start" >GND</text></g>
<g filter="url(#noop)"><text class="tl" x="587.4" y="190.6" font-size="34.8" textLength="56.2" lengthAdjust="spacingAndGlyphs" transform="rotate(-2.48 587.4 190.6)" text-anchor="start" >I2C</text></g>
<g filter="url(#noop)"><text class="tl" x="637.9" y="494.3" font-size="37.6" textLength="55.2" lengthAdjust="spacingAndGlyphs" transform="rotate(-1.72 637.9 494.3)" text-anchor="start" >SPI</text></g>
<g filter="url(#noop)"><text class="tl" x="1037.3" y="279.5" font-size="46.2" textLength="52.4" lengthAdjust="spacingAndGlyphs" transform="rotate(-2.26 1037.3 279.5)" text-anchor="start" >PPS</text></g>
<g filter="url(#noop)"><text class="tl" x="1039.8" y="331" font-size="46.0" textLength="48.7" lengthAdjust="spacingAndGlyphs" transform="rotate(-2.13 1039.8 331)" text-anchor="start" >Vcc</text></g>
<g filter="url(#noop)"><text class="tl" x="1051" y="382.5" font-size="46.2" textLength="30" lengthAdjust="spacingAndGlyphs" transform="rotate(-2.0 1051 382.5)" text-anchor="start" >Tx</text></g>
<g filter="url(#noop)"><text class="tl" x="1053.5" y="434.5" font-size="46.2" textLength="31.2" lengthAdjust="spacingAndGlyphs" transform="rotate(-1.87 1053.5 434.5)" text-anchor="start" >Rx</text></g>
<g filter="url(#noop)"><text class="t" font-size="19" textLength="22" lengthAdjust="spacingAndGlyphs" transform="translate(819.2 374.3) rotate(88.5)">Y1</text></g>
<polyline points="674.6,218.0 675.4,253.3 575.0,257.7" fill="none" stroke="#f4f4f4" stroke-width="1.5" stroke-linejoin="round" stroke-linecap="round" />
<polygon points="523.7,207.3 525.0,240.5 545.0,257.6 674.8,252.3 674.0,218.0 659.8,201.6" fill="#040404" />
<polygon points="523.7,207.3 659.8,201.6 661.0,234.8 525.0,240.5" fill="#55514f" />
<g transform="rotate(-2.4 540.4 222.9)"><rect x="532.4" y="214.9" width="16" height="16" fill="#1f1f1f"/><rect x="536.6" y="219.5" width="8.2" height="8.2" fill="#070707"/><rect x="540.8" y="222.3" width="1.4" height="3.2" fill="#e2c27a"/><rect x="542.1999999999999" y="222.5" width="2.6" height="2.8" fill="#5c4622"/></g>
<g transform="rotate(-2.4 574.9 221.20000000000002)"><rect x="566.9" y="213.20000000000002" width="16" height="16" fill="#1f1f1f"/><rect x="571.1" y="217.8" width="8.2" height="8.2" fill="#070707"/><rect x="575.3" y="220.60000000000002" width="1.4" height="3.2" fill="#e2c27a"/><rect x="576.6999999999999" y="220.8" width="2.6" height="2.8" fill="#5c4622"/></g>
<g transform="rotate(-2.4 609.1 219.6)"><rect x="601.1" y="211.6" width="16" height="16" fill="#1f1f1f"/><rect x="605.3000000000001" y="216.2" width="8.2" height="8.2" fill="#070707"/><rect x="609.5" y="219.0" width="1.4" height="3.2" fill="#e2c27a"/><rect x="610.9" y="219.2" width="2.6" height="2.8" fill="#5c4622"/></g>
<g transform="rotate(-2.4 643.6 218.1)"><rect x="635.6" y="210.1" width="16" height="16" fill="#1f1f1f"/><rect x="639.8000000000001" y="214.7" width="8.2" height="8.2" fill="#070707"/><rect x="644.0" y="217.5" width="1.4" height="3.2" fill="#e2c27a"/><rect x="645.4" y="217.7" width="2.6" height="2.8" fill="#5c4622"/></g>
<polyline points="324.4,516.8 487.4,511.8" fill="none" stroke="#f4f4f4" stroke-width="1.6" stroke-linejoin="round" stroke-linecap="round" />
<polyline points="503.5,511.3 520.3,510.8 520.0,493.0" fill="none" stroke="#f4f4f4" stroke-width="1.5" stroke-linejoin="round" stroke-linecap="round" />
<polygon points="293.2,479.4 293.2,513.0 318.0,515.6 520.3,510.4 518.6,478.4 497.5,472.7" fill="#040404" />
<polygon points="293.2,479.4 497.5,472.7 498.5,507.6 293.2,513.0" fill="#55514f" />
<g transform="rotate(-1.7 309.9 495.29999999999995)"><rect x="301.9" y="487.29999999999995" width="16" height="16" fill="#1f1f1f"/><rect x="306.09999999999997" y="491.9" width="8.2" height="8.2" fill="#070707"/><rect x="310.29999999999995" y="494.69999999999993" width="1.4" height="3.2" fill="#e2c27a"/><rect x="311.7" y="494.9" width="2.6" height="2.8" fill="#5c4622"/></g>
<g transform="rotate(-1.7 343.9 494.29999999999995)"><rect x="335.9" y="486.29999999999995" width="16" height="16" fill="#1f1f1f"/><rect x="340.09999999999997" y="490.9" width="8.2" height="8.2" fill="#070707"/><rect x="344.29999999999995" y="493.69999999999993" width="1.4" height="3.2" fill="#e2c27a"/><rect x="345.7" y="493.9" width="2.6" height="2.8" fill="#5c4622"/></g>
<g transform="rotate(-1.7 378.1 493.29999999999995)"><rect x="370.1" y="485.29999999999995" width="16" height="16" fill="#1f1f1f"/><rect x="374.3" y="489.9" width="8.2" height="8.2" fill="#070707"/><rect x="378.5" y="492.69999999999993" width="1.4" height="3.2" fill="#e2c27a"/><rect x="379.90000000000003" y="492.9" width="2.6" height="2.8" fill="#5c4622"/></g>
<g transform="rotate(-1.7 411.9 492.29999999999995)"><rect x="403.9" y="484.29999999999995" width="16" height="16" fill="#1f1f1f"/><rect x="408.09999999999997" y="488.9" width="8.2" height="8.2" fill="#070707"/><rect x="412.29999999999995" y="491.69999999999993" width="1.4" height="3.2" fill="#e2c27a"/><rect x="413.7" y="491.9" width="2.6" height="2.8" fill="#5c4622"/></g>
<g transform="rotate(-1.7 445.8 491.29999999999995)"><rect x="437.8" y="483.29999999999995" width="16" height="16" fill="#1f1f1f"/><rect x="442.0" y="487.9" width="8.2" height="8.2" fill="#070707"/><rect x="446.2" y="490.69999999999993" width="1.4" height="3.2" fill="#e2c27a"/><rect x="447.6" y="490.9" width="2.6" height="2.8" fill="#5c4622"/></g>
<g transform="rotate(-1.7 480 490.5)"><rect x="472.0" y="482.5" width="16" height="16" fill="#1f1f1f"/><rect x="476.2" y="487.1" width="8.2" height="8.2" fill="#070707"/><rect x="480.4" y="489.9" width="1.4" height="3.2" fill="#e2c27a"/><rect x="481.8" y="490.1" width="2.6" height="2.8" fill="#5c4622"/></g>
<polyline points="408.0,587.0 519.6,583.9 540.2,582.3 539.5,562.0" fill="none" stroke="#f4f4f4" stroke-width="1.5" stroke-linejoin="round" stroke-linecap="round" />
<polygon points="380.7,552.9 381.7,586.7 519.6,583.2 539.8,581.0 538.8,549.9 518.6,548.4" fill="#040404" />
<polygon points="380.7,552.9 518.6,548.4 519.6,582.7 381.7,586.7" fill="#55514f" />
<g transform="rotate(-1.5 397.8 568.4)"><rect x="389.8" y="560.4" width="16" height="16" fill="#1f1f1f"/><rect x="394.0" y="565.0" width="8.2" height="8.2" fill="#070707"/><rect x="398.2" y="567.8" width="1.4" height="3.2" fill="#e2c27a"/><rect x="399.6" y="568.0" width="2.6" height="2.8" fill="#5c4622"/></g>
<g transform="rotate(-1.5 432.5 567.4)"><rect x="424.5" y="559.4" width="16" height="16" fill="#1f1f1f"/><rect x="428.7" y="564.0" width="8.2" height="8.2" fill="#070707"/><rect x="432.9" y="566.8" width="1.4" height="3.2" fill="#e2c27a"/><rect x="434.3" y="567.0" width="2.6" height="2.8" fill="#5c4622"/></g>
<g transform="rotate(-1.5 466.9 566.4)"><rect x="458.9" y="558.4" width="16" height="16" fill="#1f1f1f"/><rect x="463.09999999999997" y="563.0" width="8.2" height="8.2" fill="#070707"/><rect x="467.29999999999995" y="565.8" width="1.4" height="3.2" fill="#e2c27a"/><rect x="468.7" y="566.0" width="2.6" height="2.8" fill="#5c4622"/></g>
<g transform="rotate(-1.5 501.5 565.4)"><rect x="493.5" y="557.4" width="16" height="16" fill="#1f1f1f"/><rect x="497.7" y="562.0" width="8.2" height="8.2" fill="#070707"/><rect x="501.9" y="564.8" width="1.4" height="3.2" fill="#e2c27a"/><rect x="503.3" y="565.0" width="2.6" height="2.8" fill="#5c4622"/></g>
<polyline points="600.0,535.2 745.0,531.8 744.6,497.0" fill="none" stroke="#f4f4f4" stroke-width="1.6" stroke-linejoin="round" stroke-linecap="round" />
<polygon points="559.0,499.0 559.0,533.6 575.0,535.0 744.6,531.0 743.5,496.9 734.0,493.6" fill="#040404" />
<polygon points="559.0,499.0 734.0,493.6 734.0,528.6 559.0,533.6" fill="#55514f" />
<g transform="rotate(-1.7 576.2 515.0)"><rect x="568.2" y="507.0" width="16" height="16" fill="#1f1f1f"/><rect x="572.4000000000001" y="511.6" width="8.2" height="8.2" fill="#070707"/><rect x="576.6" y="514.4" width="1.4" height="3.2" fill="#e2c27a"/><rect x="578.0" y="514.6" width="2.6" height="2.8" fill="#5c4622"/></g>
<g transform="rotate(-1.7 610.7 513.6999999999999)"><rect x="602.7" y="505.69999999999993" width="16" height="16" fill="#1f1f1f"/><rect x="606.9000000000001" y="510.29999999999995" width="8.2" height="8.2" fill="#070707"/><rect x="611.1" y="513.0999999999999" width="1.4" height="3.2" fill="#e2c27a"/><rect x="612.5" y="513.3" width="2.6" height="2.8" fill="#5c4622"/></g>
<g transform="rotate(-1.7 645.6 512.6999999999999)"><rect x="637.6" y="504.69999999999993" width="16" height="16" fill="#1f1f1f"/><rect x="641.8000000000001" y="509.29999999999995" width="8.2" height="8.2" fill="#070707"/><rect x="646.0" y="512.0999999999999" width="1.4" height="3.2" fill="#e2c27a"/><rect x="647.4" y="512.3" width="2.6" height="2.8" fill="#5c4622"/></g>
<g transform="rotate(-1.7 680.6 511.69999999999993)"><rect x="672.6" y="503.69999999999993" width="16" height="16" fill="#1f1f1f"/><rect x="676.8000000000001" y="508.29999999999995" width="8.2" height="8.2" fill="#070707"/><rect x="681.0" y="511.0999999999999" width="1.4" height="3.2" fill="#e2c27a"/><rect x="682.4" y="511.29999999999995" width="2.6" height="2.8" fill="#5c4622"/></g>
<g transform="rotate(-1.7 715.6 511.0)"><rect x="707.6" y="503.0" width="16" height="16" fill="#1f1f1f"/><rect x="711.8000000000001" y="507.6" width="8.2" height="8.2" fill="#070707"/><rect x="716.0" y="510.4" width="1.4" height="3.2" fill="#e2c27a"/><rect x="717.4" y="510.6" width="2.6" height="2.8" fill="#5c4622"/></g>
<polyline points="1259.5,52.0 1259.9,87.0 1332.0,83.2" fill="none" stroke="#f4f4f4" stroke-width="1.6" stroke-linejoin="round" stroke-linecap="round" />
<polygon points="1278.6,24.6 1259.8,51.9 1260.7,86.4 1331.7,82.7 1352.7,55.4 1351.7,20.7" fill="#040404" />
<polygon points="1278.6,24.6 1351.7,20.7 1352.7,55.4 1281.0,58.8" fill="#55514f" />
<g transform="rotate(-2.9 1297.7 41.1)"><rect x="1289.2" y="32.6" width="17" height="17" fill="#1f1f1f"/><rect x="1293.4" y="37.2" width="9.2" height="9.2" fill="#070707"/><rect x="1298.1000000000001" y="40.5" width="1.4" height="3.2" fill="#e2c27a"/><rect x="1299.5" y="40.7" width="2.6" height="2.8" fill="#5c4622"/></g>
<g transform="rotate(-2.9 1334.4 38.699999999999996)"><rect x="1325.9" y="30.199999999999996" width="17" height="17" fill="#1f1f1f"/><rect x="1330.1000000000001" y="34.8" width="9.2" height="9.2" fill="#070707"/><rect x="1334.8000000000002" y="38.099999999999994" width="1.4" height="3.2" fill="#e2c27a"/><rect x="1336.2" y="38.3" width="2.6" height="2.8" fill="#5c4622"/></g>
<polyline points="957.2,268.6 957.2,286.2 975.0,285.4" fill="none" stroke="#f4f4f4" stroke-width="1.5" stroke-linejoin="round" stroke-linecap="round" />
<polyline points="992.2,281.6 992.2,285.2 1027.9,283.2 1027.9,275.1" fill="none" stroke="#f4f4f4" stroke-width="1.5" stroke-linejoin="round" stroke-linecap="round" />
<g transform="rotate(-1.6 958 244.6)">
<polygon points="962.1,250.6 989.9,250.6 993.4,254.1 993.4,280.3 989.9,283.8 962.1,283.8 958.6,280.3 958.6,254.1" fill="#050505" />
<polygon points="997.1,250.6 1024.8,250.6 1028.3,254.1 1028.3,280.3 1024.8,283.8 997.1,283.8 993.6,280.3 993.6,254.1" fill="#050505" />
<polygon points="961.4,244.6 990.1,244.6 993.5,248.0 993.5,275.2 990.1,278.6 961.4,278.6 958.0,275.2 958.0,248.0" fill="#55514f" />
<polygon points="996.4,244.6 1025.0,244.6 1028.4,248.0 1028.4,275.2 1025.0,278.6 996.4,278.6 993.0,275.2 993.0,248.0" fill="#55514f" />
</g>
<polygon points="973.2,252.1 983.2,251.7 980.6,266.5 971.2,266.7" fill="#150f09" />
<rect x="973.8" y="243.29999999999998" width="9.2" height="9.4" fill="#c9a968" transform="rotate(-3 978.4 248.1)"/>
<rect x="976.0" y="244.9" width="5.2" height="5.2" fill="#fbe8a6" transform="rotate(-3 978.4 248.1)"/>
<polygon points="1009.3,250.5 1019.3,250.1 1015.1,264.9 1005.7,265.1" fill="#150f09" />
<rect x="1009.9" y="241.7" width="9.2" height="9.4" fill="#c9a968" transform="rotate(-3 1014.5 246.5)"/>
<rect x="1012.1" y="243.3" width="5.2" height="5.2" fill="#fbe8a6" transform="rotate(-3 1014.5 246.5)"/>
<polyline points="958.8,320.4 958.8,338.0 976.6,337.2" fill="none" stroke="#f4f4f4" stroke-width="1.5" stroke-linejoin="round" stroke-linecap="round" />
<polyline points="993.8,333.4 993.8,337.0 1029.6,335.0 1029.6,326.9" fill="none" stroke="#f4f4f4" stroke-width="1.5" stroke-linejoin="round" stroke-linecap="round" />
<g transform="rotate(-1.6 959.6 296.4)">
<polygon points="963.7,302.4 991.5,302.4 995.0,305.9 995.0,332.1 991.5,335.6 963.7,335.6 960.2,332.1 960.2,305.9" fill="#050505" />
<polygon points="998.7,302.4 1026.5,302.4 1030.0,305.9 1030.0,332.1 1026.5,335.6 998.7,335.6 995.2,332.1 995.2,305.9" fill="#050505" />
<polygon points="963.0,296.4 991.7,296.4 995.1,299.8 995.1,327.0 991.7,330.4 963.0,330.4 959.6,327.0 959.6,299.8" fill="#55514f" />
<polygon points="998.0,296.4 1026.7,296.4 1030.1,299.8 1030.1,327.0 1026.7,330.4 998.0,330.4 994.6,327.0 994.6,299.8" fill="#55514f" />
</g>
<polygon points="975.4,304.6 985.4,304.2 982.8,319.0 973.4,319.2" fill="#150f09" />
<rect x="976.0" y="295.8" width="9.2" height="9.4" fill="#c9a968" transform="rotate(-3 980.6 300.6)"/>
<rect x="978.2" y="297.40000000000003" width="5.2" height="5.2" fill="#fbe8a6" transform="rotate(-3 980.6 300.6)"/>
<polygon points="1011.4,302.8 1021.4,302.4 1017.2,317.2 1007.8,317.4" fill="#150f09" />
<rect x="1012.0" y="294.0" width="9.2" height="9.4" fill="#c9a968" transform="rotate(-3 1016.6 298.8)"/>
<rect x="1014.2" y="295.6" width="5.2" height="5.2" fill="#fbe8a6" transform="rotate(-3 1016.6 298.8)"/>
<polyline points="960.2,370.6 960.2,388.2 978.0,387.4" fill="none" stroke="#f4f4f4" stroke-width="1.5" stroke-linejoin="round" stroke-linecap="round" />
<polyline points="995.2,383.6 995.2,387.2 1031.2,385.2 1031.2,377.1" fill="none" stroke="#f4f4f4" stroke-width="1.5" stroke-linejoin="round" stroke-linecap="round" />
<g transform="rotate(-1.6 961 346.6)">
<polygon points="965.1,352.6 993.0,352.6 996.5,356.1 996.5,382.3 993.0,385.8 965.1,385.8 961.6,382.3 961.6,356.1" fill="#050505" />
<polygon points="1000.2,352.6 1028.1,352.6 1031.6,356.1 1031.6,382.3 1028.1,385.8 1000.2,385.8 996.7,382.3 996.7,356.1" fill="#050505" />
<polygon points="964.4,346.6 993.2,346.6 996.6,350.0 996.6,377.2 993.2,380.6 964.4,380.6 961.0,377.2 961.0,350.0" fill="#55514f" />
<polygon points="999.5,346.6 1028.3,346.6 1031.7,350.0 1031.7,377.2 1028.3,380.6 999.5,380.6 996.1,377.2 996.1,350.0" fill="#55514f" />
</g>
<polygon points="977.1,356.5 987.1,356.1 984.5,370.9 975.1,371.1" fill="#150f09" />
<rect x="977.6999999999999" y="347.7" width="9.2" height="9.4" fill="#c9a968" transform="rotate(-3 982.3 352.5)"/>
<rect x="979.9" y="349.3" width="5.2" height="5.2" fill="#fbe8a6" transform="rotate(-3 982.3 352.5)"/>
<polygon points="1013.4,355.3 1023.4,354.9 1019.2,369.7 1009.8,369.9" fill="#150f09" />
<rect x="1014.0" y="346.5" width="9.2" height="9.4" fill="#c9a968" transform="rotate(-3 1018.6 351.3)"/>
<rect x="1016.2" y="348.1" width="5.2" height="5.2" fill="#fbe8a6" transform="rotate(-3 1018.6 351.3)"/>
<polyline points="961.6,421.4 961.6,439.0 979.4,438.2" fill="none" stroke="#f4f4f4" stroke-width="1.5" stroke-linejoin="round" stroke-linecap="round" />
<polyline points="996.6,434.4 996.6,438.0 1032.8,436.0 1032.8,427.9" fill="none" stroke="#f4f4f4" stroke-width="1.5" stroke-linejoin="round" stroke-linecap="round" />
<g transform="rotate(-1.6 962.4 397.4)">
<polygon points="966.5,403.4 994.5,403.4 998.0,406.9 998.0,433.1 994.5,436.6 966.5,436.6 963.0,433.1 963.0,406.9" fill="#050505" />
<polygon points="1001.7,403.4 1029.7,403.4 1033.2,406.9 1033.2,433.1 1029.7,436.6 1001.7,436.6 998.2,433.1 998.2,406.9" fill="#050505" />
<polygon points="965.8,397.4 994.7,397.4 998.1,400.8 998.1,428.0 994.7,431.4 965.8,431.4 962.4,428.0 962.4,400.8" fill="#55514f" />
<polygon points="1001.0,397.4 1029.9,397.4 1033.3,400.8 1033.3,428.0 1029.9,431.4 1001.0,431.4 997.6,428.0 997.6,400.8" fill="#55514f" />
</g>
<polygon points="978.9,410.2 988.9,409.8 986.3,424.6 976.9,424.8" fill="#150f09" />
<rect x="979.5" y="401.4" width="9.2" height="9.4" fill="#c9a968" transform="rotate(-3 984.1 406.2)"/>
<rect x="981.7" y="403.0" width="5.2" height="5.2" fill="#fbe8a6" transform="rotate(-3 984.1 406.2)"/>
<polygon points="1014.6,409.0 1024.6,408.6 1020.4,423.4 1011.0,423.6" fill="#150f09" />
<rect x="1015.1999999999999" y="400.2" width="9.2" height="9.4" fill="#c9a968" transform="rotate(-3 1019.8 405)"/>
<rect x="1017.4" y="401.8" width="5.2" height="5.2" fill="#fbe8a6" transform="rotate(-3 1019.8 405)"/>
<path d="M857.6,110 A83.8,78.6 0 0 1 1025.2,110 L1023.4,142 A81.8,78.7 0 0 1 859.8,142 Z" fill="url(#bzBody)"/>
<ellipse cx="941.4" cy="110.2" rx="83.8" ry="78.7" fill="url(#bzTop)"/>
<circle cx="941" cy="109.9" r="14.1" fill="#e4894c"/>
<rect x="748" y="316.5" width="62" height="142" rx="31" fill="#6b6b6b" transform="rotate(-1.2 780 388)"/>
<g transform="rotate(-1.5 764 368)">
<rect x="745.6" y="306.7" width="59" height="144.8" rx="29.5" fill="#070707"/>
<polygon points="784.9,304.3 795.9,315.3 754.1,442.9 743.1,431.9" fill="#070707" />
<rect x="734.6" y="295.7" width="59.4" height="145" rx="29.7" ry="27.5" fill="url(#xtTop)"/>
</g>
<path d="M199.7,506.4 L237,505.6 A55,55.5 0 0 1 237,616.6 L199.7,615 Z" fill="url(#capBody)"/>
<g clip-path="url(#capClip)">
<path d="M234.6,505.6 A55,55.5 0 0 1 234.6,616.6 L228.4,616.6 A55,55.5 0 0 0 228.4,505.6 Z" fill="#1f4f9e" opacity="0.85"/>
<rect x="230" y="539.4" width="70" height="41.6" fill="#191714"/>
<path d="M232,546 L252,539.4 L252,581 L232,574 Z" fill="#aea694"/>
<path d="M252,539.4 A52,55 0 0 1 252,581 L246,581 A52,55 0 0 0 246,539.4 Z" fill="#8f887a"/>
<path d="M279,539.4 A48,55 0 0 1 279,581 L284.5,581 A48,55 0 0 0 284.5,539.4 Z" fill="#85817a"/>
<rect x="258" y="555.5" width="10" height="7" rx="2" fill="#050505"/><rect x="278" y="556.5" width="10" height="6" rx="2" fill="#050505"/>
</g>
<ellipse cx="199.7" cy="560.6" rx="53.6" ry="54.6" fill="#3f86d8"/>
<ellipse cx="199.9" cy="560.6" rx="52.4" ry="53.4" fill="#80d0fd"/>
<ellipse cx="199.2" cy="561" rx="37.6" ry="38.8" fill="#3a3a36"/>
<ellipse cx="199.2" cy="561" rx="36.8" ry="38" fill="#fffff6"/>
<line x1="199.3" y1="523" x2="199.3" y2="599.2" stroke="#1a1a1a" stroke-width="1.2"/>
<polygon points="234.3,546.0 247.6,539.6 253.6,539.4 253.6,581.0 247.6,580.8 234.3,575.6" fill="url(#wedge)" />
<polygon points="199.0,670.6 232.0,668.8 232.0,679.4 199.0,681.0" fill="url(#lead1)" />
<polygon points="199.0,693.6 279.5,689.6 279.5,700.4 199.0,704.0" fill="url(#lead2)" />
<polygon points="199.0,715.8 232.0,713.6 232.0,724.6 199.0,727.0" fill="url(#lead1)" />
<polygon points="199.0,738.6 279.5,734.6 279.5,745.6 199.0,750.0" fill="url(#lead2)" />
<polygon points="199.0,761.0 232.0,758.0 232.0,770.0 199.0,773.0" fill="url(#lead1)" />
<ellipse cx="230.7" cy="674" rx="4.6" ry="5.6" fill="#0a0908"/>
<path d="M227.5,662.6 A11.4,11.4 0 0 1 227.5,685.4 L227.5,679.4 A5.6,5.6 0 0 0 227.5,668.6 Z" fill="#ffff2e"/>
<ellipse cx="278.0" cy="694.9" rx="4.6" ry="5.6" fill="#0a0908"/>
<path d="M274.8,683.5 A11.4,11.4 0 0 1 274.8,706.3 L274.8,700.3 A5.6,5.6 0 0 0 274.8,689.5 Z" fill="#ffff2e"/>
<ellipse cx="230.7" cy="718.7" rx="4.6" ry="5.6" fill="#0a0908"/>
<path d="M227.5,707.3000000000001 A11.4,11.4 0 0 1 227.5,730.1 L227.5,724.1 A5.6,5.6 0 0 0 227.5,713.3000000000001 Z" fill="#ffff2e"/>
<ellipse cx="278.0" cy="739.8" rx="4.6" ry="5.6" fill="#0a0908"/>
<path d="M274.8,728.4 A11.4,11.4 0 0 1 274.8,751.1999999999999 L274.8,745.1999999999999 A5.6,5.6 0 0 0 274.8,734.4 Z" fill="#ffff2e"/>
<path d="M227.5,757.8 L241.2,757.8 L241.2,769.6 L227.5,769.6 Z" fill="#ffff2e"/>
<ellipse cx="231.5" cy="763.8" rx="4.6" ry="5.8" fill="#0c0b08"/>
<polygon points="28.2,671.3 51.0,668.6 51.3,664.9 70.5,664.6 70.5,668.0 48.3,669.9 48.3,823.9 57.4,822.9 69.5,818.8 69.5,822.6 27.2,826.0" fill="#fffff5" />
<polygon points="48.3,669.9 95.6,661.3 95.6,814.8 48.3,823.9" fill="#222220" />
<polygon points="95.6,661.3 129.9,657.2 129.9,813.2 95.6,814.8" fill="#54504d" />
<polygon points="129.9,657.2 151.0,655.8 151.0,810.8 129.9,813.2" fill="#1b1b1b" />
<polygon points="151.0,655.8 199.3,654.2 199.3,798.5 173.0,805.7 151.0,810.8" fill="#040404" />
<path d="M173,654.8 L190.5,654.4 Q189,677 181.5,677 Q174,677 173,654.8 Z" fill="url(#notch)"/>
<path d="M175,804.8 Q176,781 183,781 Q190,781 191,800.5 Z" fill="url(#notch)"/>
<ellipse cx="191.5" cy="726.5" rx="3.8" ry="10" fill="url(#notch)"/>
<ellipse cx="70.5" cy="742.8" rx="13.9" ry="28.7" fill="url(#tabHole)"/>
<g clip-path="url(#tabClip)"><ellipse cx="58" cy="744.5" rx="9.2" ry="24" fill="url(#bg)"/></g>
</svg></body></html>
